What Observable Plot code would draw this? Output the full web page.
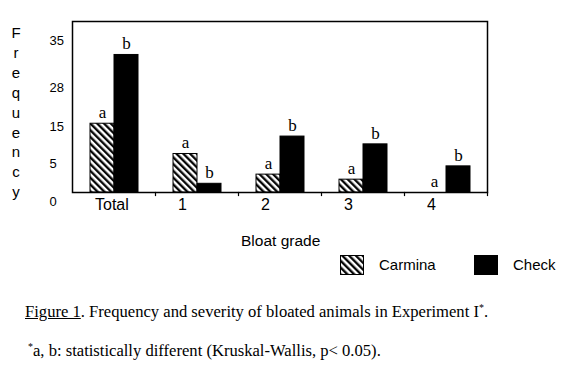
<!DOCTYPE html>
<html><head><meta charset="utf-8">
<script src="https://cdn.jsdelivr.net/npm/d3@7"></script>
<script src="https://cdn.jsdelivr.net/npm/@observablehq/plot@0.6"></script>
<style>
body{margin:0;background:#fff;}
#wrap{position:relative;width:564px;height:372px;font-family:"Liberation Sans",Arial,sans-serif;color:#000;overflow:hidden;}
#chart{position:absolute;left:0;top:0;}
#ylab{position:absolute;left:9px;top:23px;width:14px;font-size:15px;line-height:19.9px;text-align:center;}
#ylab span{display:block;}
#xlab{position:absolute;left:241px;top:232px;font-size:15.5px;}
.sw{position:absolute;top:255px;width:24px;height:20px;}
.lt{position:absolute;top:256px;font-size:15px;}
.cap{position:absolute;font-family:"Liberation Serif","Times New Roman",serif;white-space:nowrap;}
#cap1{left:25px;top:302px;font-size:16.6px;}
#cap2{left:28px;top:341px;font-size:16.6px;}
sup{font-size:0.6em;vertical-align:0.6em;line-height:0;}
</style></head>
<body>
<svg width="0" height="0" style="position:absolute">
  <defs>
    <pattern id="hatch" patternUnits="userSpaceOnUse" width="4.8" height="4.8" patternTransform="rotate(-45)">
      <rect width="4.8" height="4.8" fill="#fff"/>
      <line x1="1.2" y1="0" x2="1.2" y2="4.8" stroke="#000" stroke-width="2.3"/>
    </pattern>
  </defs>
</svg>
<div id="wrap">
  <div id="chart"></div>
  <div id="ylab"></div>
  <div id="xlab"></div>
  <div id="legend"></div>
  <div class="cap" id="cap1"><u>Figure 1</u>. Frequency and severity of bloated animals in Experiment I<sup>*</sup>.</div>
  <div class="cap" id="cap2"><sup>*</sup>a, b: statistically different (Kruskal-Wallis, p&lt; 0.05).</div>
</div>
<script>
// ---- data ----
const categories = ["Total", "1", "2", "3", "4"];
const series = ["Carmina", "Check"];
const carmina = [15, 8.4, 3.9, 2.8, 0];
const check = [30, 1.9, 12.2, 10.5, 5.7];
const carminaLetters = ["a", "a", "a", "a", "a"];
const checkLetters = ["b", "b", "b", "b", "b"];
const yTickLabels = ["0", "5", "15", "28", "35"];
const yTickAt = [-2.0, 6.3, 14.4, 22.9, 33.1];
const yTitle = "Frequency";
const xTitle = "Bloat grade";

// ---- table ----
const rows = [];
categories.forEach((c, i) => {
  rows.push({cat: c, series: "Carmina", value: carmina[i], letter: carminaLetters[i]});
  rows.push({cat: c, series: "Check", value: check[i], letter: checkLetters[i]});
});
const tickLabel = new Map(yTickAt.map((v, i) => [v, yTickLabels[i]]));

const sans = "Liberation Sans, Arial, sans-serif";
const serif = "Liberation Serif, Times New Roman, serif";

const chart = Plot.plot({
  width: 564,
  height: 230,
  marginTop: 21,
  marginBottom: 38,
  marginLeft: 66,
  marginRight: 55,
  style: {fontFamily: sans, fontSize: "14px", color: "#000", background: "transparent"},
  fx: {domain: categories, padding: 0, insetLeft: 5.4, insetRight: 21, label: null},
  x: {domain: series, paddingInner: 0, paddingOuter: 0.7, axis: null},
  y: {domain: [0, 37.3], axis: null},
  color: {domain: series, range: ["url(#hatch)", "#000"]},
  marks: [
    Plot.barY(rows, {fx: "cat", x: "series", y: "value", fill: "series", stroke: "#000", strokeWidth: 1}),
    Plot.text(rows, {fx: "cat", x: "series", y: "value", text: "letter", dy: -11, fontFamily: serif, fontSize: 17}),
    Plot.frame({anchor: "right", insetTop: 171, insetBottom: -3, strokeWidth: 1.2}),
    Plot.axisY({ticks: yTickAt, tickSize: 0, tickPadding: 23, textAnchor: "start", tickFormat: d => tickLabel.get(d), fontSize: 13, label: null}),
    Plot.axisFx({anchor: "bottom", tickSize: 0, tickPadding: 6, textAnchor: "start", dx: -19, fontSize: 16, label: null}),
    Plot.frame({facet: "super", strokeWidth: 1.5})
  ]
});
document.getElementById("chart").appendChild(chart);

// y title as stacked letters
const yl = document.getElementById("ylab");
for (const ch of yTitle) { const s = document.createElement("span"); s.textContent = ch; yl.appendChild(s); }
document.getElementById("xlab").textContent = xTitle;

// legend
const lg = document.getElementById("legend");
const swX = [340, 474], txX = [379, 513];
series.forEach((s, i) => {
  const sw = document.createElementNS("http://www.w3.org/2000/svg", "svg");
  sw.setAttribute("class", "sw");
  sw.style.left = swX[i] + "px";
  sw.setAttribute("width", 24); sw.setAttribute("height", 20);
  const r = document.createElementNS("http://www.w3.org/2000/svg", "rect");
  r.setAttribute("x", 0.5); r.setAttribute("y", 0.5); r.setAttribute("width", 23); r.setAttribute("height", 19);
  r.setAttribute("fill", i === 0 ? "url(#hatch)" : "#000"); r.setAttribute("stroke", "#000");
  sw.appendChild(r); lg.appendChild(sw);
  const t = document.createElement("div"); t.className = "lt"; t.style.left = txX[i] + "px"; t.textContent = s; lg.appendChild(t);
});
</script>
</body></html>
